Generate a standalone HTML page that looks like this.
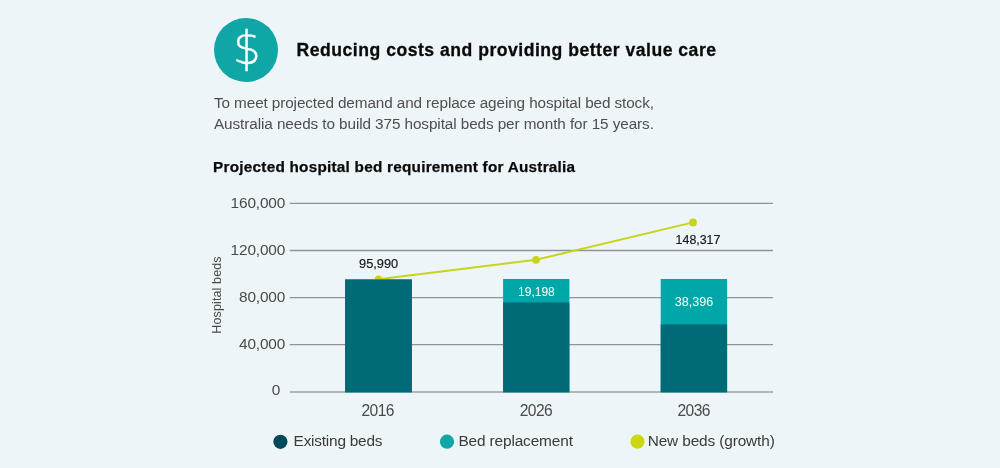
<!DOCTYPE html>
<html lang="en">
<head>
<meta charset="utf-8">
<title>Reducing costs and providing better value care</title>
<style>
  html, body { margin: 0; padding: 0; }
  body {
    width: 1000px; height: 468px; position: relative; overflow: hidden;
    background: #eef5f8;
    font-family: "Liberation Sans", sans-serif;
    color: #3c3c3c;
  }
  .abs { position: absolute; white-space: nowrap; line-height: 1; }
  #icon { left: 213.7px; top: 17.6px; width: 64.4px; height: 64.4px; border-radius: 50%; background: #0fa6a5; }
  #dollar { left: 214.9px; top: 16.3px; transform: scaleX(0.95); width: 64px; height: 64px; text-align: center; color: #fff;
    font-family: "DejaVu Sans Light", "DejaVu Sans", sans-serif; font-weight: 200; font-size: 46px; line-height: 64px;
    -webkit-text-stroke: 0.4px #fff; }
  #title { left: 296.6px; top: 42.1px; font-size: 17.6px; font-weight: bold; color: #0a0a0a; letter-spacing: 0.5px; -webkit-text-stroke: 0.3px #0a0a0a; }
  .p { left: 214px; font-size: 15.3px; color: #4e4e4e; }
  #p1 { top: 95.3px; letter-spacing: -0.105px; }
  #p2 { top: 116.3px; letter-spacing: -0.087px; }
  #sub { left: 213.1px; top: 158.5px; font-size: 15.3px; font-weight: bold; color: #0a0a0a; letter-spacing: 0.245px; -webkit-text-stroke: 0.25px #0a0a0a; }
  .yl { font-size: 15.4px; letter-spacing: -0.15px; color: #4a4a4a; text-align: right; width: 80px; left: 205.2px; }
  .xl { font-size: 15.6px; letter-spacing: -0.55px; color: #4a4a4a; text-align: center; width: 80px; }
  .dl { font-size: 12.8px; color: #1a1a1a; text-align: center; width: 80px; -webkit-text-stroke: 0.2px #1a1a1a; }
  .wl { font-size: 12.6px; color: #fff; text-align: center; width: 80px; }
  .lg { font-size: 15.4px; letter-spacing: -0.13px; color: #3a3a3a; }
  #ylab { left: 217px; top: 295px; font-size: 12.5px; letter-spacing: 0.12px; color: #4a4a4a; transform: translate(-50%,-50%) rotate(-90deg); }
  svg { position: absolute; left: 0; top: 0; }
</style>
</head>
<body>
<div id="icon" class="abs"></div>
<div id="dollar" class="abs">$</div>
<div id="title" class="abs">Reducing costs and providing better value care</div>
<div id="p1" class="abs p">To meet projected demand and replace ageing hospital bed stock,</div>
<div id="p2" class="abs p">Australia needs to build 375 hospital beds per month for 15 years.</div>
<div id="sub" class="abs">Projected hospital bed requirement for Australia</div>

<svg width="1000" height="468" viewBox="0 0 1000 468">
  <g stroke="#8e9597" stroke-width="1.3">
    <line x1="289.7" x2="773" y1="203.4" y2="203.4"/>
    <line x1="289.7" x2="773" y1="250.5" y2="250.5"/>
    <line x1="289.7" x2="773" y1="297.7" y2="297.7"/>
    <line x1="289.7" x2="773" y1="344.6" y2="344.6"/>
    <line x1="289.7" x2="773" y1="392" y2="392" stroke="#9aa0a2"/>
  </g>
  <polyline points="378.5,279.2 536,259.8 693,222.4" fill="none" stroke="#c8d419" stroke-width="2"/>
  <circle cx="378.5" cy="279.2" r="3.8" fill="#c8d419"/>
  <circle cx="536" cy="259.8" r="3.9" fill="#c8d419"/>
  <circle cx="693" cy="222.4" r="3.9" fill="#c8d419"/>
  <rect x="345.1" y="279" width="66.8" height="113.3" fill="#00a7a8"/>
  <rect x="345.1" y="280" width="66.8" height="112.3" fill="#006a77"/>
  <rect x="503.1" y="279" width="66.3" height="113.3" fill="#00a7a8"/>
  <rect x="503.1" y="302.4" width="66.3" height="89.9" fill="#006a77"/>
  <rect x="660.7" y="279" width="66.4" height="113.3" fill="#00a7a8"/>
  <rect x="660.7" y="324.4" width="66.4" height="67.9" fill="#006a77"/>
  <circle cx="280.4" cy="441.8" r="7.1" fill="#004959"/>
  <circle cx="447" cy="441.7" r="7.1" fill="#0fa6a5"/>
  <circle cx="637.5" cy="441.7" r="7.1" fill="#cdd70f"/>
</svg>

<div class="abs yl" style="top:195.2px">160,000</div>
<div class="abs yl" style="top:242.3px">120,000</div>
<div class="abs yl" style="top:288.8px">80,000</div>
<div class="abs yl" style="top:336.4px">40,000</div>
<div class="abs yl" style="top:382.4px; left:200.2px">0</div>

<div class="abs xl" style="left:337.7px; top:402.6px">2016</div>
<div class="abs xl" style="left:495.9px; top:402.6px">2026</div>
<div class="abs xl" style="left:653.7px; top:402.6px">2036</div>

<div class="abs dl" style="left:338.6px; top:257.8px">95,990</div>
<div class="abs dl" style="left:658px; top:234.3px; font-size:12.4px">148,317</div>
<div class="abs wl" style="left:496.4px; top:285.5px; font-size:12px">19,198</div>
<div class="abs wl" style="left:654px; top:296px">38,396</div>

<div id="ylab" class="abs">Hospital beds</div>

<div class="abs lg" style="left:293.6px; top:433.2px; letter-spacing:-0.22px">Existing beds</div>
<div class="abs lg" style="left:458.4px; top:433.2px">Bed replacement</div>
<div class="abs lg" style="left:647.7px; top:433.2px">New beds (growth)</div>
</body>
</html>
